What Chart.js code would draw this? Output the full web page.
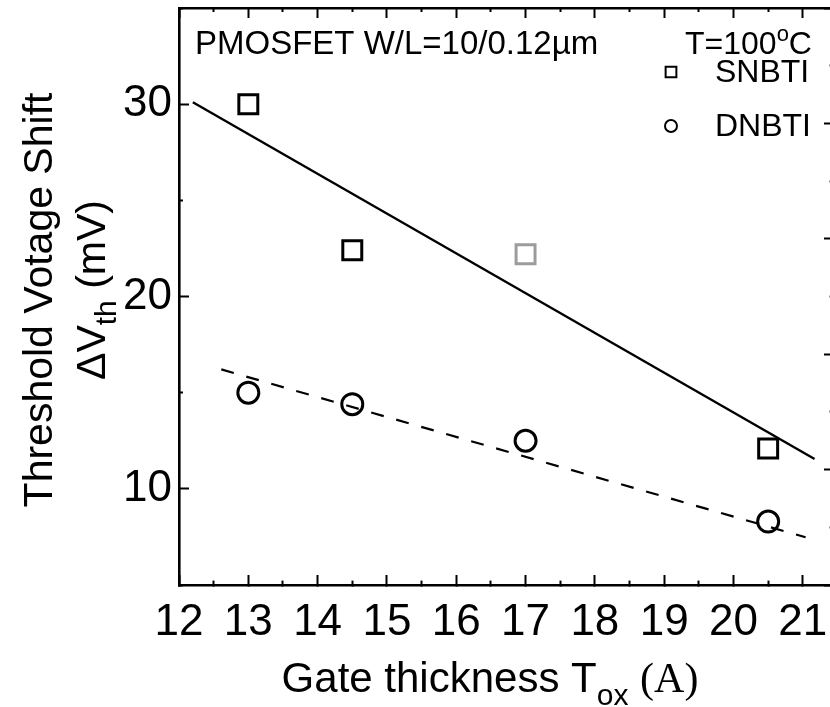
<!DOCTYPE html>
<html>
<head>
<meta charset="utf-8">
<title>Threshold voltage shift vs. gate oxide thickness</title>
<script src="https://cdn.jsdelivr.net/npm/chart.js@4.4.1/dist/chart.umd.min.js"></script>
<style>
  html, body { margin: 0; padding: 0; background: #fff; overflow: hidden; }
  #wrap { width: 830px; height: 707px; overflow: hidden; position: relative; }
  canvas { display: block; }
</style>
</head>
<body>
<div id="wrap"><canvas id="chart" width="880" height="707"></canvas></div>
<script>
// Gate oxide thickness (A) of the measured devices
const toxSNBTI = [13, 14.5, 17, 20.5];
const toxDNBTI = [13, 14.5, 17, 20.5];
// Threshold voltage shift (mV)
const dvthSNBTI = [30.0, 22.4, 22.2, 12.1];
const dvthDNBTI = [15.0, 14.4, 12.5, 8.3];
// Linear fits through each series (end points)
const fitSNBTIx = [12.2, 21.17];
const fitSNBTIy = [30.1, 11.55];
const fitDNBTIx = [12.61, 21.04];
const fitDNBTIy = [16.21, 7.48];
// Labelled ticks
const xTickLabels = [12, 13, 14, 15, 16, 17, 18, 19, 20, 21];
const yTickLabels = [10, 20, 30];
const seriesNames = ['SNBTI', 'DNBTI'];

const SANS = "'Liberation Sans', Arial, Helvetica, sans-serif";
const SERIF = "'Liberation Serif', 'Times New Roman', serif";

const pts = (xs, ys) => xs.map((x, i) => ({ x, y: ys[i] }));

// Inward tick marks; minor ticks are shortened with a dash pattern.
function tickGrid(isMinor, startsAtAxis) {
  return {
    display: true,
    drawOnChartArea: false,
    drawTicks: true,
    tickLength: -10,
    tickWidth: 2,
    tickColor: '#000',
    tickBorderDash: (c) => isMinor(c.tick.value) ? (startsAtAxis ? [6, 60] : [0, 6, 60]) : []
  };
}
const frame = { display: true, color: '#000', width: 2.6 };

// Fixed box sizes keep the plot frame where it belongs.
function fixBox(size) {
  return (s) => {
    if (s.isHorizontal()) { s.height = size; } else { s.width = size; }
    s.paddingTop = 0; s.paddingBottom = 0; s.paddingLeft = 0; s.paddingRight = 0;
  };
}

function richText(ctx, parts, x, y, align) {
  let total = 0;
  parts.forEach(p => {
    ctx.font = p.size + 'px ' + (p.family || SANS);
    p.w = ctx.measureText(p.text).width;
    total += p.w;
  });
  let cx = align === 'center' ? x - total / 2 : x;
  parts.forEach(p => {
    ctx.font = p.size + 'px ' + (p.family || SANS);
    ctx.fillText(p.text, cx, y + (p.dy || 0));
    cx += p.w;
  });
}

// Axis titles, device annotation and the in-plot key
const annotations = {
  id: 'annotations',
  afterDraw(chart) {
    const ctx = chart.ctx;
    ctx.save();
    ctx.fillStyle = '#000';
    ctx.textAlign = 'left';
    ctx.textBaseline = 'alphabetic';

    // x-axis title
    richText(ctx, [
      { text: 'Gate thickness T', size: 42 },
      { text: 'ox', size: 30, dy: 13 },
      { text: ' ', size: 42 },
      { text: '(A)', size: 42, family: SERIF }
    ], 490, 692, 'center');

    // y-axis title, two rotated lines
    ctx.save();
    ctx.translate(52, 300);
    ctx.rotate(-Math.PI / 2);
    richText(ctx, [{ text: 'Threshold Votage Shift', size: 41 }], 0, 0, 'center');
    ctx.restore();
    ctx.save();
    ctx.translate(105, 290);
    ctx.rotate(-Math.PI / 2);
    richText(ctx, [
      { text: '\u0394V', size: 41 },
      { text: 'th', size: 30, dy: 11 },
      { text: ' (mV)', size: 41 }
    ], 0, 0, 'center');
    ctx.restore();

    // device description
    richText(ctx, [{ text: 'PMOSFET W/L=10/0.12\u00b5m', size: 33 }], 195, 54, 'left');
    richText(ctx, [
      { text: 'T=100', size: 32 },
      { text: 'o', size: 22, dy: -13 },
      { text: 'C', size: 32 }
    ], 685, 54, 'left');

    // key
    const keyRows = [72, 126];
    chart.data.datasets.filter(d => d.isKey).forEach((d, i) => {
      const y = keyRows[i];
      ctx.fillStyle = 'rgba(0,0,0,0)';
      ctx.strokeStyle = '#000';
      ctx.lineWidth = 2;
      Chart.helpers.drawPoint(ctx, {
        pointStyle: d.pointStyle,
        radius: d.pointStyle === 'rect' ? 7.6 : 6,
        borderWidth: 2,
        rotation: 0
      }, 671, y);
      ctx.fillStyle = '#000';
      ctx.textBaseline = 'middle';
      richText(ctx, [{ text: d.label, size: 32 }], 715, y + 1, 'left');
      ctx.textBaseline = 'alphabetic';
    });
    ctx.restore();
  }
};

new Chart(document.getElementById('chart'), {
  type: 'scatter',
  data: {
    datasets: [
      {
        type: 'line', label: 'SNBTI fit', data: pts(fitSNBTIx, fitSNBTIy),
        showLine: true, borderColor: '#000', borderWidth: 2.4, pointRadius: 0, fill: false
      },
      {
        type: 'line', label: 'DNBTI fit', data: pts(fitDNBTIx, fitDNBTIy),
        showLine: true, borderColor: '#000', borderWidth: 2.2, borderDash: [13, 13],
        pointRadius: 0, fill: false
      },
      {
        label: seriesNames[0], isKey: true, data: pts(toxSNBTI, dvthSNBTI), showLine: false,
        pointStyle: 'rect', pointRadius: 13.4, pointBorderWidth: 3,
        pointBorderColor: ['#000', '#000', '#9c9c9c', '#000'],
        pointBackgroundColor: 'rgba(0,0,0,0)'
      },
      {
        label: seriesNames[1], isKey: true, data: pts(toxDNBTI, dvthDNBTI), showLine: false,
        pointStyle: 'circle', pointRadius: 10.5, pointBorderWidth: 3,
        pointBorderColor: '#000', pointBackgroundColor: 'rgba(0,0,0,0)'
      }
    ]
  },
  options: {
    responsive: false,
    animation: false,
    layout: { padding: 0, autoPadding: false },
    plugins: { legend: { display: false }, tooltip: { enabled: false } },
    scales: {
      x: {
        type: 'linear', position: 'bottom', min: 12, max: 21.45,
        ticks: {
          stepSize: 0.5, includeBounds: false, autoSkip: false, maxRotation: 0,
          padding: 21, color: '#000', font: { family: SANS, size: 44 },
          callback: v => xTickLabels.includes(v) ? String(v) : ''
        },
        grid: tickGrid(v => !Number.isInteger(v), true),
        border: frame,
        afterFit: fixBox(122)
      },
      xTop: {
        type: 'linear', position: 'top', min: 12, max: 21.45,
        ticks: { stepSize: 0.5, includeBounds: false, autoSkip: false, display: false },
        grid: tickGrid(v => !Number.isInteger(v), false),
        border: frame,
        afterFit: fixBox(8)
      },
      y: {
        type: 'linear', position: 'left', min: 5, max: 35,
        ticks: {
          stepSize: 5, includeBounds: false, autoSkip: false,
          padding: 17, color: '#000', font: { family: SANS, size: 44 },
          callback: v => yTickLabels.includes(v) ? String(v) : ''
        },
        grid: tickGrid(v => v % 10 !== 0, false),
        border: frame,
        afterFit: fixBox(179)
      },
      y2: {
        type: 'linear', position: 'right', min: 0, max: 50,
        ticks: { stepSize: 5, includeBounds: false, autoSkip: false, display: false },
        grid: tickGrid(v => v % 10 !== 0, true),
        border: frame,
        afterFit: fixBox(46)
      }
    }
  },
  plugins: [annotations]
});
</script>
</body>
</html>
